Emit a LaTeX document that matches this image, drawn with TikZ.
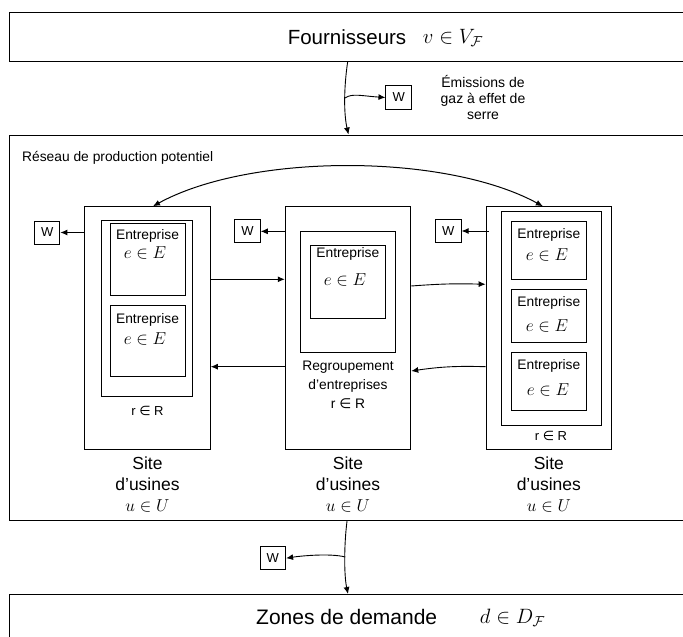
\documentclass[tikz,border=0pt]{standalone}
\usepackage{fontspec}
\setmainfont{Liberation Sans}
\newfontfamily\symfont{DejaVu Sans}
\usetikzlibrary{arrows.meta,calc}

\begin{document}
\begin{tikzpicture}[x = 1pt, y = -1pt,
  box/.style = {draw, line width = 1pt, inner sep = 0pt},
  wbox/.style = {draw, line width = 1pt, inner sep = 0pt, minimum width = 25.5, minimum height = 23,
    font = \fontsize{13}{13}\selectfont},
  flow/.style = {line width = 0.9pt, -{Latex[length = 7pt, width = 6pt]}},
  big/.style = {font = \fontsize{20.5}{24}\selectfont},
  txt/.style = {font = \fontsize{13.8}{19}\selectfont, inner sep = 0pt},
  mth/.style = {font = \fontsize{17}{19}\selectfont, inner sep = 0pt},
  sitelbl/.style = {align = center, font = \fontsize{17.5}{21}\selectfont, inner sep = 0pt}]
\useasboundingbox (0, 0) rectangle (683, 637);
%\draw[very thin, color = gray](0, 0) grid[step = 50] (683, 637);

% the three wide boxes
\node [box, minimum width = 681, minimum height = 48.3] (fourn) at (349.5, 36.85) {};
\node [box, minimum width = 681, minimum height = 385.7] (reseau) at (349.5, 327.85) {};
\node [box, minimum width = 681, minimum height = 65.5] (zones) at (349.5, 627.25) {};
\node [big, inner sep = 0pt] (fourntxt) at (347, 37) {Fournisseurs};
\node [big, inner sep = 0pt] (fournmath) at (453, 38) {$v \in V_{\mathcal{F}}$};
\node [big, inner sep = 0pt, font = \fontsize{21}{24}\selectfont] (zonestxt) at (346.7, 617) {Zones de demande};
\node [big, inner sep = 0pt] (zonesmath) at (512.5, 618) {$d \in D_{\mathcal{F}}$};
\node [txt, anchor = west] (restxt) at (22, 158) {Réseau de production potentiel};

% emissions
\node [wbox, minimum height = 24] (wf) at (398.7, 97.5) {W};
\node [align = center, inner sep = 0pt, font = \fontsize{14}{16}\selectfont] (emis) at (483, 97)
  {Émissions de\\gaz à effet de\\serre};

% sites
\node [box, minimum width = 125.5, minimum height = 242.6] (site1) at (147.5, 328) {};
\node [box, minimum width = 125.5, minimum height = 242.6] (site2) at (348, 328) {};
\node [box, minimum width = 125.5, minimum height = 242.6] (site3) at (548.85, 328) {};
\node [sitelbl] (lbl1) at ([yshift = -35]site1.south) {Site\\d'usines\\$u \in U$};
\node [sitelbl] (lbl2) at ([yshift = -35]site2.south) {Site\\d'usines\\$u \in U$};
\node [sitelbl] (lbl3) at ([yshift = -35]site3.south) {Site\\d'usines\\$u \in U$};

% site 1
\node [box, minimum width = 91, minimum height = 176] (grp1) at (147.2, 308) {};
\node [box, minimum width = 75, minimum height = 72.7] (ent11) at (147.5, 259.6) {};
\node [box, minimum width = 75, minimum height = 70.7] (ent12) at (147.5, 341.3) {};
\node [txt] at (147.5, 236) {Entreprise};
\node [mth] at (145, 253) {$e \in E$};
\node [txt] at (147.5, 320) {Entreprise};
\node [mth] at (145, 339) {$e \in E$};
\node [txt, font = \fontsize{13}{16}\selectfont] (r1) at (147.5, 410.6) {r {\symfont ∈} R};

% site 2
\node [box, minimum width = 95.7, minimum height = 121.3] (grp2) at (347.85, 291.65) {};
\node [box, minimum width = 75.7, minimum height = 73.3] (ent21) at (347.85, 281.65) {};
\node [txt] at (347.85, 254.3) {Entreprise};
\node [mth] at (345, 280) {$e \in E$};
\node [txt, align = center] (r2) at (348, 385) {Regroupement\\d'entreprises\\r {\symfont ∈} R};

% site 3
\node [box, minimum width = 100.7, minimum height = 213.3] (grp3) at (551.35, 318.35) {};
\node [box, minimum width = 75.7, minimum height = 57.6] (ent31) at (548.85, 250.5) {};
\node [box, minimum width = 75.7, minimum height = 53.3] (ent32) at (548.85, 315.65) {};
\node [box, minimum width = 75.7, minimum height = 58.4] (ent33) at (548.85, 381.5) {};
\node [txt] at (548.85, 235) {Entreprise};
\node [mth] at (547, 255) {$e \in E$};
\node [txt] at (548.85, 303) {Entreprise};
\node [mth] at (547, 326) {$e \in E$};
\node [txt] at (548.85, 366) {Entreprise};
\node [mth] at (548, 390) {$e \in E$};
\node [txt, font = \fontsize{13}{16}\selectfont] (r3) at (551, 436) {r {\symfont ∈} R};

% W boxes
\node [wbox] (w1) at (47.15, 232.5) {W};
\node [wbox] (w2) at (247.5, 231.35) {W};
\node [wbox] (w3) at (448.35, 231) {W};
\node [wbox] (wz) at (272.85, 558.2) {W};

% flows
\coordinate (fsplit) at (345, 98);
\coordinate (zsplit) at (345.3, 557);
\draw [flow] ([xshift = -1.8]fourn.south) .. controls (343.5, 90) and (344, 115) .. ([xshift = -1]reseau.north);
\draw [flow] (fsplit) .. controls (352, 93) and (362, 96) .. (wf.west);
\draw [flow] ([xshift = -2.5]reseau.south) .. controls (344, 545) and (344, 575) .. ([xshift = -1.5]zones.north);
\draw [flow] (zsplit) .. controls (330, 553) and (300, 556) .. (wz.east);

\draw [flow] (site1.west |- w1.east) -- (w1.east);
\draw [flow] (site2.west |- w2.east) -- (w2.east);
\draw [flow] ([xshift = 3]site3.west |- w3.east) -- (w3.east);

\draw [flow] ([yshift = 48.7]site1.east) -- ([yshift = 48.7]site2.west);
\draw [flow] ([yshift = -38.7]site2.west) -- ([yshift = -38.7]site1.east);
\draw [flow] ([yshift = 42]site2.east) to[bend left = 3] ([yshift = 43.7]site3.west);
\draw [flow] ([yshift = -38.7]site3.west) to[bend right = 5] ([yshift = -43]site2.east);
\draw [line width = 1pt, {Latex[length = 7pt, width = 6pt]}-{Latex[length = 7pt, width = 6pt]}]
  ([xshift = 5.5]site1.north) .. controls (250, 153) and (445, 153) .. ([xshift = -6]site3.north);
\end{tikzpicture}
\end{document}
